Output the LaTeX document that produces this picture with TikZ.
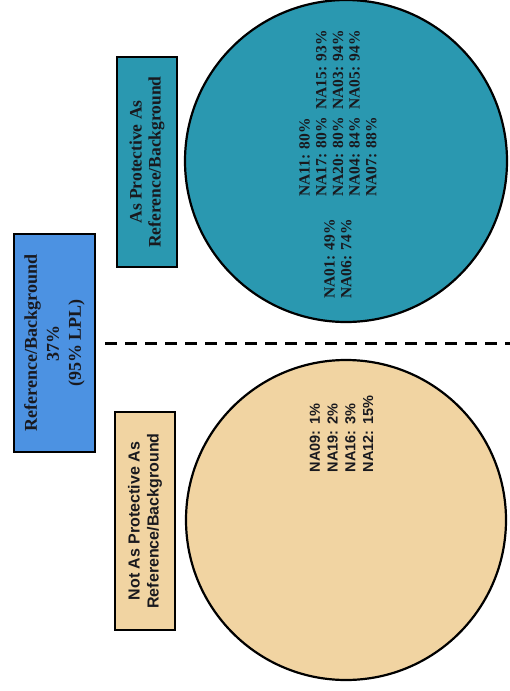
\documentclass[tikz,border=0pt]{standalone}
\usepackage{fontspec}
\setmainfont{Liberation Serif}
\setsansfont{Liberation Sans}
\definecolor{bluebox}{RGB}{76,146,226}
\definecolor{tealfill}{RGB}{42,152,176}
\definecolor{tanfill}{RGB}{241,212,162}
\definecolor{inkc}{RGB}{25,25,30}
\tikzset{
  boxnode/.style={draw=black, line width=2.2pt, rotate=90, inner sep=0pt, align=center, text=inkc},
  bigcircle/.style={draw=black, line width=2.2pt, circle, inner sep=0pt, minimum size=322pt},
  serifgroup/.style={rotate=90, inner sep=0pt, align=left, text=inkc,
    font=\fontsize{15.5}{16.7}\selectfont\bfseries},
  sansgroup/.style={rotate=90, inner sep=0pt, align=left, text=inkc,
    font=\fontsize{14.5}{17.7}\selectfont\sffamily\bfseries},
  divider/.style={line width=3pt, dash pattern=on 12pt off 8pt}
}
\begin{document}
\begin{tikzpicture}[x=1pt,y=-1pt]
\useasboundingbox (0,0) rectangle (510,691);
% circles
\node[bigcircle, fill=tealfill] (tealc) at (346,161) {};
\node[bigcircle, fill=tanfill, minimum size=320pt] (tanc) at (346,520) {};
% divider
\coordinate (dstart) at (105,343);
\coordinate (dend) at (512,343);
\draw[divider] (dstart) -- (dend);
% boxes
\node[boxnode, fill=bluebox, minimum width=218pt, minimum height=81pt,
  font=\fontsize{18}{22}\selectfont\bfseries] (ref) at (54.5,343)
  {Reference/Background\\37\%\\(95\% LPL)};
\node[boxnode, fill=tealfill, minimum width=210pt, minimum height=60pt,
  font=\fontsize{17.5}{19}\selectfont\bfseries] (asprot) at (147,162)
  {As Protective As\\Reference/Background};
\node[boxnode, fill=tanfill, minimum width=218pt, minimum height=60pt,
  font=\fontsize{16}{19}\selectfont\sffamily\bfseries] (notprot) at (145,521)
  {Not As Protective As\\Reference/Background};
% circle texts
\node[serifgroup] (tlow) at (338,259) {NA01: 49\%\\NA06: 74\%};
\node[serifgroup] (tmid) at (338,157) {NA11: 80\%\\NA17: 80\%\\NA20: 80\%\\NA04: 84\%\\NA07: 88\%};
\node[serifgroup] (thigh) at (338,70) {NA15: 93\%\\NA03: 94\%\\NA05: 94\%};
\node[sansgroup] (tnot) at (341.5,434) {NA09: 1\%\\NA19: 2\%\\NA16: 3\%\\NA12: 15\%};
\end{tikzpicture}
\end{document}
